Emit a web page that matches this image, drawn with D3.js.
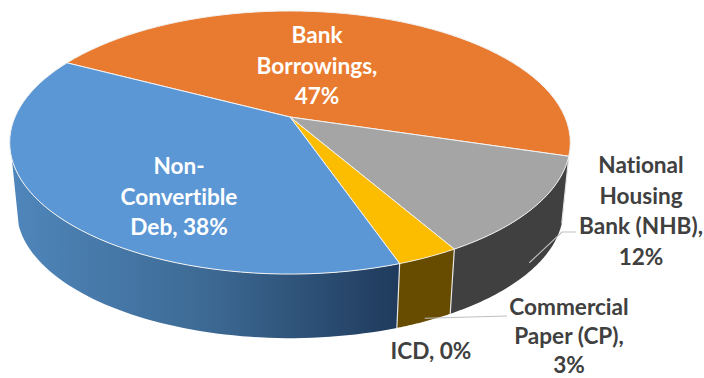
<!DOCTYPE html>
<html>
<head>
<meta charset="utf-8">
<style>
  html, body { margin: 0; padding: 0; background: #fff; }
  svg { display: block; }
  text { font-family: Lato, "Open Sans", sans-serif; font-weight: 700; font-size: 22.6px; text-anchor: middle; dominant-baseline: central; font-variant-ligatures: none; }
</style>
<script src="https://cdn.jsdelivr.net/npm/d3@7/dist/d3.min.js"></script>
</head>
<body>
<script>
// Funding mix, in slice order running clockwise
const categories = ["Bank Borrowings", "National Housing Bank (NHB)", "Commercial Paper (CP)", "ICD", "Non-Convertible Deb"];
const shares = [47, 12, 3, 0, 38];
const topColours = ["#e97b30", "#a5a5a5", "#fcbd00", "#8a8a8a", "#5b97d5"];
const wallColours = ["#7a4015", "#404040", "#674c00", "#404040", "url(#blueWall)"];
const labelLines = [["Bank", "Borrowings,", "47%"], ["National", "Housing", "Bank (NHB),", "12%"], ["Commercial", "Paper (CP),", "3%"], ["ICD, 0%"], ["Non-", "Convertible", "Deb, 38%"]];
const labelColours = ["#ffffff", "#404040", "#404040", "#404040", "#ffffff"];
const labelCentres = [[317, 34], [641, 164], [569, 306], [431, 350], [179, 165]];
const labelGaps = [30.5, 30.5, 29, 30.5, 30.5];

const width = 704, height = 378;
const deg = Math.PI / 180;
const firstAngle = -62.2 * deg;

// Tilted-disc camera: far side compressed, near side stretched
const apex = { x: 290, y: 117 };
const radiusX = 275, radiusY = 126.6, tilt = 0.194;
const wallDrop = 68, wallShrink = 0.975;
const visibleFrom = 106.6 * deg, visibleTo = 252 * deg;

const scaleX = d3.scaleLinear().domain([-1, 1]).range([-radiusX, radiusX]);
const scaleY = d3.scaleLinear().domain([-1, 1]).range([radiusY, -radiusY]);

// level 0 is the top face, level 1 the lower rim
function project(angle, rho = 1, level = 0) {
  const X = rho * Math.sin(angle), Y = rho * Math.cos(angle);
  const w = 1 + tilt * Y;
  const s = 1 + (wallShrink - 1) * level;
  return [apex.x + s * scaleX(X) / w, apex.y + s * scaleY(Y) / w + wallDrop * level];
}

const arcs = d3.pie().sort(null).value(d => d)
  .startAngle(firstAngle).endAngle(firstAngle + 2 * Math.PI)(shares);

const svg = d3.select("body").append("svg").attr("width", width).attr("height", height);

const grad = svg.append("defs").append("linearGradient").attr("id", "blueWall")
  .attr("gradientUnits", "userSpaceOnUse")
  .attr("x1", project(visibleTo)[0]).attr("x2", project(arcs[4].startAngle)[0])
  .attr("y1", 0).attr("y2", 0);
grad.append("stop").attr("offset", 0).attr("stop-color", "#4f86bb");
grad.append("stop").attr("offset", 0.5).attr("stop-color", "#3d6a94");
grad.append("stop").attr("offset", 1).attr("stop-color", "#1f3a5c");

const path = d3.line();
const sweep = (a, b) => d3.range(0, 61).map(i => a + (b - a) * i / 60);

// Outer wall of each slice, limited to the part facing the viewer
arcs.forEach((d, i) => {
  const a = Math.max(d.startAngle, visibleFrom), b = Math.min(d.endAngle, visibleTo);
  if (b <= a) return;
  const top = sweep(a, b).map(t => project(t, 1, 0));
  const low = sweep(b, a).map(t => project(t, 1, 1));
  svg.append("path").attr("d", path(top.concat(low)) + "Z").attr("fill", wallColours[i]);
});

// Pale seams between neighbouring walls
arcs.forEach(d => {
  if (d.endAngle <= visibleFrom || d.endAngle >= visibleTo || d.value === 0) return;
  svg.append("path")
    .attr("d", path([project(d.endAngle, 1, 0), project(d.endAngle, 1, 1)]))
    .attr("stroke", "#e6e6e6").attr("stroke-width", 1.2).attr("fill", "none");
});

// Top face slices
arcs.forEach((d, i) => {
  if (d.value === 0) return;
  const rim = sweep(d.startAngle, d.endAngle).map(t => project(t));
  svg.append("path").attr("d", path([project(0, 0)].concat(rim)) + "Z")
    .attr("fill", topColours[i]).attr("stroke", "#f2f2f2").attr("stroke-width", 1).attr("stroke-linejoin", "round");
});

// Leader lines from the outside labels
const leaderColour = "#bfbfbf";
function leader(points) {
  svg.append("path").attr("d", path(points)).attr("fill", "none")
    .attr("stroke", leaderColour).attr("stroke-width", 1.1);
}
const midAngle = d => (d.startAngle + d.endAngle) / 2;
leader([[576, 232], [562, 232], project(midAngle(arcs[1]), 1, 0.85)]);
leader([[507, 316], project(midAngle(arcs[2]), 1, 0.95)]);

// Text labels
labelLines.forEach((lines, i) => {
  const [cx, cy] = labelCentres[i];
  svg.append("text").attr("fill", labelColours[i])
    .selectAll("tspan").data(lines).join("tspan")
    .attr("x", cx).attr("y", (l, j) => cy + j * labelGaps[i]).text(l => l);
});
</script>
</body>
</html>
